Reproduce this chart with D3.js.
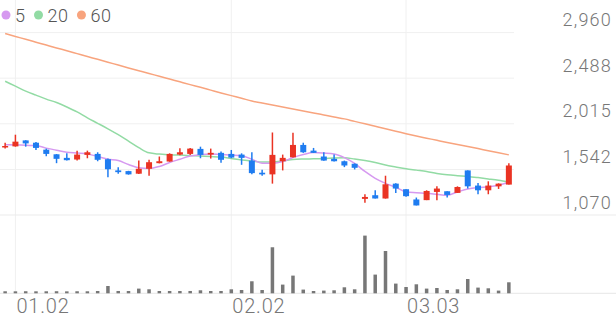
<!DOCTYPE html>
<html>
<head>
  <meta charset="utf-8">
  <title>Candles</title>
  <script src="https://cdn.jsdelivr.net/npm/d3@7"></script>
  <style>
    body { margin: 0; background: #fff; }
    text { font-family: Roboto, "Noto Sans", sans-serif; font-weight: 300; }
  </style>
</head>
<body>
<script type="text/javascript">
  var WIDTH = 616;
  var HEIGHT = 321;

  // trading days shown (MM.DD)
  var dates = ["12.30","01.02","01.05","01.06","01.07","01.08","01.09","01.12","01.13","01.14",
               "01.15","01.16","01.19","01.20","01.21","01.22","01.23","01.26","01.27","01.28",
               "01.29","01.30","02.02","02.03","02.04","02.05","02.06","02.09","02.10","02.11",
               "02.12","02.13","02.19","02.20","02.23","02.24","02.25","02.26","02.27","03.03",
               "03.04","03.05","03.06","03.09","03.10","03.11","03.12","03.13","03.16","03.17"];

  var opens  = [1771,1781,1843,1819,1747,1699,1662,1645,1693,1703,1648,1532,1525,1498,1549,1607,1624,1696,1703,1755,
                1696,1714,1703,1696,1634,1508,1491,1627,1668,1796,1737,1676,1652,1627,1601,1237,1275,1241,1395,1337,
                1231,1224,1309,1316,1299,1532,1375,1326,1367,1385];
  var highs  = [1819,1902,1845,1827,1758,1701,1709,1737,1737,1720,1655,1566,1528,1634,1642,1676,1709,1761,1763,1778,
                1758,1727,1744,1709,1720,1539,1925,1696,1922,1819,1765,1720,1696,1634,1604,1285,1326,1477,1398,1337,
                1251,1326,1367,1316,1367,1532,1401,1419,1398,1607];
  var lows   = [1758,1778,1778,1744,1679,1607,1636,1634,1658,1627,1460,1498,1488,1496,1477,1605,1622,1689,1693,1658,
                1655,1611,1658,1590,1491,1477,1395,1532,1666,1714,1712,1632,1624,1566,1542,1196,1240,1240,1299,1260,
                1169,1224,1224,1251,1299,1344,1285,1285,1340,1385];
  var closes = [1785,1830,1812,1765,1703,1652,1638,1696,1720,1642,1544,1514,1491,1549,1617,1627,1703,1720,1758,1693,
                1714,1642,1665,1662,1504,1491,1693,1662,1796,1720,1714,1634,1627,1583,1559,1257,1241,1388,1344,1265,
                1169,1319,1344,1278,1360,1367,1326,1375,1395,1583];
  var volumes = [10120,9870,10350,9930,10080,10410,9760,10220,10050,11530,36480,11620,11390,23470,20110,11480,11550,11420,11610,15040,
                 11470,11530,19980,16520,60130,16480,230150,43520,88470,18530,11490,13520,14980,30040,20010,288460,93520,211480,48530,31470,
                 45020,23490,26510,16530,20020,71480,28510,24990,13480,55030];

  // moving averages
  var ma5  = [1799,1796,1792,1789,1763,1742,1720,1712,1703,1676,1648,1634,1593,1559,1552,1573,1614,1648,1681,1696,
              1703,1696,1691,1683,1648,1607,1607,1624,1665,1696,1717,1712,1703,1665,1604,1521,1450,1398,1357,1309,
              1301,1295,1285,1275,1309,1340,1355,1362,1378,1412];
  var ma20 = [2456,2405,2354,2312,2271,2235,2189,2138,2076,2020,1963,1902,1835,1768,1714,1701,1693,1691,1686,1681,
              1676,1670,1655,1640,1629,1619,1619,1629,1645,1650,1652,1655,1660,1662,1650,1634,1614,1588,1568,1549,
              1535,1521,1501,1486,1477,1470,1458,1444,1429,1409];
  var ma60 = [2950,2920,2891,2861,2831,2801,2772,2742,2712,2683,2653,2624,2594,2565,2536,2508,2479,2450,2421,2393,
              2364,2335,2307,2280,2251,2230,2210,2189,2169,2148,2128,2107,2086,2066,2040,2015,1989,1963,1938,1912,
              1888,1866,1844,1822,1801,1779,1758,1736,1715,1693];

  var maNames  = ["5", "20", "60"];
  var maColors = ["#d699f0", "#92dba4", "#f8a47e"];

  var priceTicks = [1070, 1542, 2015, 2488, 2960];
  var dateTicks  = ["01.02", "02.02", "03.03"];

  var UP = "#ea3323";
  var DOWN = "#1f7cf0";

  var candles = dates.map(function(d, i){
    return { date: d, open: opens[i], high: highs[i], low: lows[i], close: closes[i], volume: volumes[i] };
  });

  var svg = d3.select("body").append("svg")
              .attr("width", WIDTH)
              .attr("height", HEIGHT);

  var PLOT_W = 514;
  var x = d3.scaleBand().domain(dates).range([0, PLOT_W]).padding(0);
  var bw = x.bandwidth();
  function cx(d){ return x(d) + bw / 2; }

  var y  = d3.scaleLinear().domain([1070, 2960]).range([215, 32.6]);
  var vy = d3.scaleLinear().domain([0, 390000]).range([293.3, 215.3]);

  // grid
  svg.append("g").selectAll("line")
     .data(priceTicks.slice(1))
     .enter().append("line")
     .attr("x1", 0).attr("x2", PLOT_W)
     .attr("y1", function(d){ return y(d); })
     .attr("y2", function(d){ return y(d); })
     .attr("stroke", "#f0f0f0");

  svg.append("g").selectAll("line")
     .data(dateTicks)
     .enter().append("line")
     .attr("x1", function(d){ return cx(d); })
     .attr("x2", function(d){ return cx(d); })
     .attr("y1", 0).attr("y2", vy(0))
     .attr("stroke", "#f0f0f0");

  // panel separator and volume baseline
  svg.append("line")
     .attr("x1", 0).attr("x2", WIDTH)
     .attr("y1", y(1070)).attr("y2", y(1070))
     .attr("stroke", "#ebebeb");
  svg.append("line")
     .attr("x1", 0).attr("x2", WIDTH)
     .attr("y1", vy(0)).attr("y2", vy(0))
     .attr("stroke", "#e6e6e6");

  // moving averages
  var line = d3.line()
               .x(function(d, i){ return cx(dates[i]); })
               .y(function(d){ return y(d); })
               .curve(d3.curveMonotoneX);

  [ma60, ma20, ma5].forEach(function(s, k){
    svg.append("path")
       .attr("d", line(s))
       .attr("fill", "none")
       .attr("stroke", maColors[2 - k])
       .attr("stroke-width", 1.5);
  });

  // candles
  var cell = svg.selectAll("g.candle")
                .data(candles)
                .enter().append("g")
                .attr("class", "candle");

  cell.append("line")
      .attr("x1", function(d){ return cx(d.date); })
      .attr("x2", function(d){ return cx(d.date); })
      .attr("y1", function(d){ return y(d.high); })
      .attr("y2", function(d){ return y(d.low); })
      .attr("stroke", function(d){ return d.close >= d.open ? UP : DOWN; })
      .attr("stroke-width", 1.5);

  cell.append("rect")
      .attr("x", function(d){ return cx(d.date) - 3; })
      .attr("width", 6)
      .attr("y", function(d){ return y(Math.max(d.open, d.close)); })
      .attr("height", function(d){ return Math.max(1.5, Math.abs(y(d.open) - y(d.close))); })
      .attr("fill", function(d){ return d.close >= d.open ? UP : DOWN; });

  // volume
  svg.append("g").selectAll("rect")
     .data(candles)
     .enter().append("rect")
     .attr("x", function(d){ return cx(d.date) - 1.75; })
     .attr("width", 3.5)
     .attr("y", function(d){ return vy(d.volume); })
     .attr("height", function(d){ return vy(0) - vy(d.volume); })
     .attr("fill", "#777");

  // price labels
  var yAxis = svg.append("g")
                 .attr("transform", "translate(612,0)")
                 .call(d3.axisLeft(y).tickValues(priceTicks).tickSize(0).tickPadding(0).tickFormat(d3.format(",")));
  yAxis.select(".domain").remove();
  yAxis.selectAll("text")
       .attr("dy", null)
       .attr("y", -7)
       .attr("font-size", 18)
       .attr("letter-spacing", 1.2)
       .attr("fill", "#777");

  // date labels
  var xAxis = svg.append("g")
                 .attr("transform", "translate(0,313)")
                 .call(d3.axisBottom(x).tickValues(dateTicks).tickSize(0).tickPadding(0));
  xAxis.select(".domain").remove();
  xAxis.selectAll("text")
       .attr("dy", null)
       .attr("y", 0)
       .attr("x", 1)
       .attr("text-anchor", "start")
       .attr("font-size", 20)
       .attr("letter-spacing", 0.8)
       .attr("fill", "#777");

  // legend
  var legend = svg.append("g").attr("transform", "translate(6,15)");
  var lx = 0;
  maNames.forEach(function(name, i){
    legend.append("circle").attr("cx", lx).attr("cy", 0).attr("r", 4.5).attr("fill", maColors[i]);
    var t = legend.append("text")
                  .attr("x", lx + 9).attr("y", 6.5)
                  .attr("font-size", 18)
                  .attr("letter-spacing", 0.5)
                  .attr("fill", "#555")
                  .text(name);
    lx += 9 + t.node().getComputedTextLength() + 13;
  });
</script>
</body>
</html>
